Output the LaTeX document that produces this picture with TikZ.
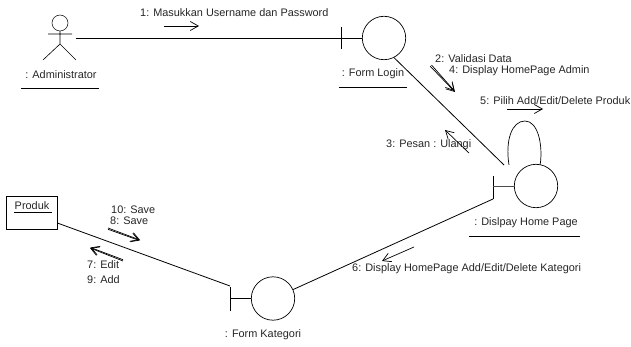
\documentclass[tikz,border=0pt]{standalone}
\usepackage{fontspec}
\setmainfont{Liberation Sans}
\usetikzlibrary{arrows.meta}
\tikzset{
  x=1pt,y=-1pt,
  lbl/.style={inner sep=0pt,font=\fontsize{10.9}{12}\selectfont,text=black!85},
  lleft/.style={lbl,anchor=west},
  ctl/.style={circle,draw,line width=.7pt,minimum size=43.4pt,inner sep=0pt},
  conn/.style={line width=.8pt},
  ulin/.style={line width=.8pt},
  msg/.style={line width=.7pt,-{Straight Barb[length=8pt,width=9pt,line width=.7pt]}},
}
\begin{document}
\begin{tikzpicture}
\useasboundingbox (0,0) rectangle (631,347);
% actor
\node[circle,draw,line width=.5pt,minimum size=16pt,inner sep=0pt] (head) at (60,23) {};
\coordinate (armL) at (48,34);
\coordinate (armR) at (72,34);
\coordinate (hip) at (60,44);
\coordinate (legL) at (43,60);
\coordinate (legR) at (76,60);
\draw[line width=.6pt] (head.south) -- (hip) -- (legL) (hip) -- (legR) (armL) -- (armR);
\node[lbl] (admin) at (61,75) {: Administrator};
\coordinate (adminU1) at (21,88); \coordinate (adminU2) at (99,88);
\draw[ulin] (adminU1) -- (adminU2);
% form login
\node[ctl] (login) at (384,38) {};
\coordinate (loginB1) at (341,27); \coordinate (loginB2) at (341,49);
\draw[line width=.7pt] (loginB1) -- (loginB2);
\coordinate (actorEnd) at (76,38);
\draw[conn] (actorEnd) -- (login.west);
\node[lbl] (loginL) at (373,74) {: Form Login};
\coordinate (loginU1) at (339,87); \coordinate (loginU2) at (407,87);
\draw[ulin] (loginU1) -- (loginU2);
% display home page
\node[ctl] (home) at (536,186) {};
\coordinate (homeB1) at (493,176); \coordinate (homeB2) at (493,199);
\coordinate (homeBm) at (493,186);
\draw[line width=.7pt] (homeB1) -- (homeB2);
\draw[line width=.7pt,black!70] (homeBm) -- (home.west);
\coordinate (homeIn) at (504,165);
\draw[conn] (login.-63) -- (homeIn);
\coordinate (loopA) at (509,165);
\draw[line width=.7pt] (loopA) .. controls (505,140) and (512,121) .. (525,121)
   .. controls (538,121) and (543,145) .. (home.79);
\node[lbl] (homeL) at (526,223) {: Dislpay Home Page};
\coordinate (homeU1) at (469,236); \coordinate (homeU2) at (580,236);
\draw[ulin] (homeU1) -- (homeU2);
% form kategori
\node[ctl] (kat) at (273,298.5) {};
\coordinate (katB1) at (230.5,287); \coordinate (katB2) at (230.5,311);
\coordinate (katBm) at (230.5,298.5);
\draw[line width=.7pt] (katB1) -- (katB2);
\draw[line width=.7pt] (katBm) -- (kat.west);
\draw[conn] (homeB2) -- (kat.24);
\node[lbl] (katL) at (263,335) {: Form Kategori};
% produk
\node[draw,line width=.7pt,minimum width=50.5pt,minimum height=32.5pt,inner sep=0pt] (produk) at (31.75,213) {};
\node[lbl] (produkL) at (32,206) {Produk};
\coordinate (prodU1) at (14,212); \coordinate (prodU2) at (52,212);
\draw[line width=.6pt] (prodU1) -- (prodU2);
\coordinate (katIn) at (230,286);
\draw[conn] (produk.east |- 0,223) -- (katIn);
% messages
\node[lleft] (m1) at (140,12.5) {1: Masukkan Username dan Password};
\coordinate (a1s) at (164,26); \coordinate (a1e) at (199,26);
\draw[msg] (a1s) -- (a1e);
\node[lleft] (m2) at (435,59) {2: Validasi Data};
\node[lleft] (m4) at (449,71) {4: Display HomePage Admin};
\coordinate (a2s) at (430,66); \coordinate (a2e) at (455,92);
\coordinate (a4s) at (431.5,65); \coordinate (a4e) at (454.5,91);
\draw[msg] (a2s) -- (a2e);
\draw[msg] (a4s) -- (a4e);
\node[lleft] (m5) at (480,101) {5: Pilih Add/Edit/Delete Produk};
\coordinate (a5s) at (507,109); \coordinate (a5e) at (543,109);
\draw[msg] (a5s) -- (a5e);
\node[lleft] (m3) at (386,145) {3: Pesan : Ulangi};
\coordinate (a3s) at (469,153); \coordinate (a3e) at (445,130);
\draw[msg] (a3s) -- (a3e);
\node[lleft] (m6) at (352,269) {6: Display HomePage Add/Edit/Delete Kategori};
\coordinate (a6s) at (414,247); \coordinate (a6e) at (382,261);
\draw[msg] (a6s) -- (a6e);
\node[lleft] (m10) at (111,210) {10: Save};
\node[lleft] (m8) at (110,221) {8: Save};
\coordinate (a8s) at (108,228); \coordinate (a8e) at (140,240);
\coordinate (a10s) at (108,229.3); \coordinate (a10e) at (139.5,240.5);
\draw[msg] (a8s) -- (a8e);
\draw[msg] (a10s) -- (a10e);
\coordinate (a7s) at (123,261); \coordinate (a7e) at (90,248);
\coordinate (a9s) at (123,259.7); \coordinate (a9e) at (90.5,247.5);
\draw[msg] (a7s) -- (a7e);
\draw[msg] (a9s) -- (a9e);
\node[lleft] (m7) at (87,265) {7: Edit};
\node[lleft] (m9) at (87,280) {9: Add};
\end{tikzpicture}
\end{document}
